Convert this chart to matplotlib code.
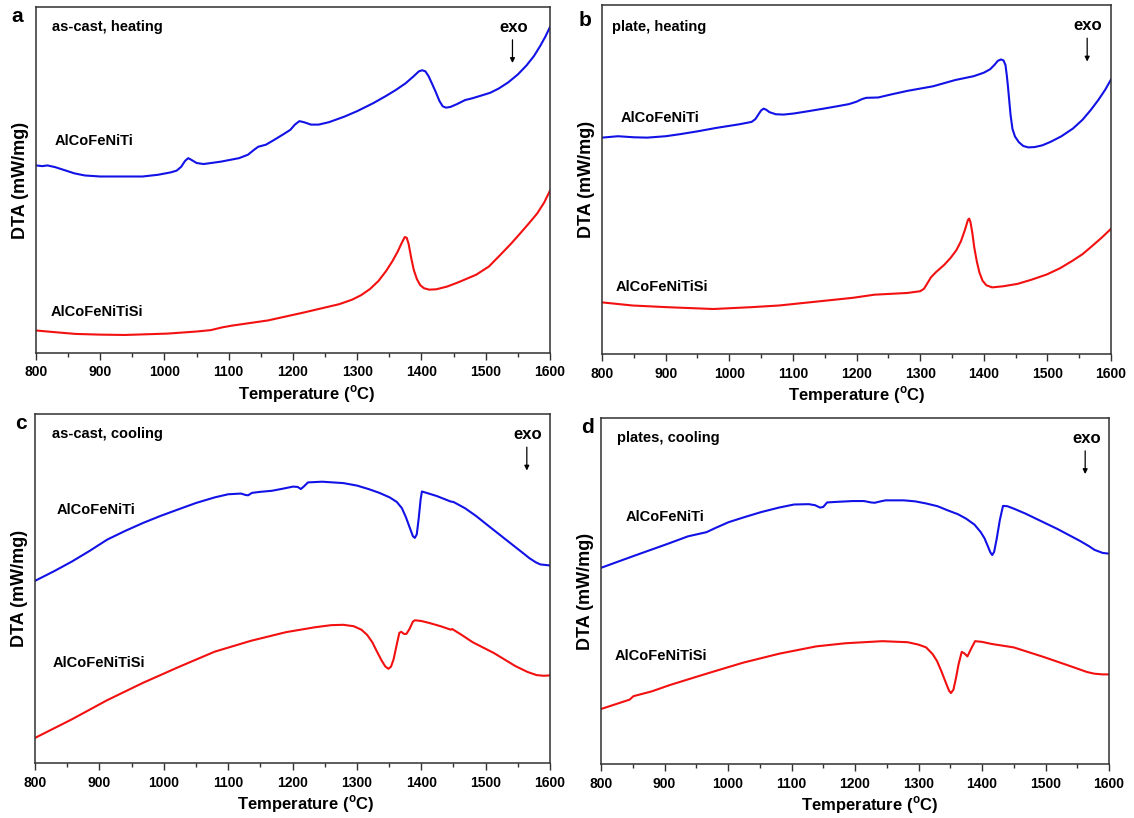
import matplotlib

matplotlib.use("Agg")
import matplotlib.pyplot as plt
from matplotlib.ticker import MultipleLocator

plt.rcParams["font.family"] = ["Liberation Sans", "DejaVu Sans"]
plt.rcParams["font.weight"] = "bold"
plt.rcParams["mathtext.fontset"] = "custom"
plt.rcParams["mathtext.bf"] = "Liberation Sans:bold"
plt.rcParams["mathtext.rm"] = "Liberation Sans:bold"

BLUE = "#1212e6"
RED = "#f21010"
SPINE = "#303030"

# --- (a) as-cast, heating: temperature (C) and DTA signal (% of axis height) ---
a_ti_t = [800, 810, 818, 830, 845, 860, 876, 900, 966, 990, 1010, 1019, 1026, 1032,
          1037, 1042, 1050, 1061, 1088, 1116, 1130, 1140, 1146, 1158, 1170, 1185,
          1196, 1203, 1210, 1217, 1228, 1240, 1256, 1280, 1300, 1325, 1345, 1360,
          1375, 1388, 1396, 1401, 1406, 1411, 1416, 1422, 1428, 1433, 1438, 1445,
          1455, 1468, 1479, 1495, 1507, 1520, 1535, 1550, 1563, 1575, 1585, 1593,
          1600]
a_ti_y = [54.2, 54.0, 54.2, 53.7, 52.8, 51.9, 51.3, 51.0, 51.0, 51.5, 52.2, 52.7,
          53.8, 55.5, 56.3, 55.8, 54.9, 54.6, 55.3, 56.3, 57.3, 58.8, 59.6, 60.2,
          61.5, 63.2, 64.5, 66.0, 67.0, 66.7, 66.0, 66.0, 66.7, 68.3, 69.9, 72.2,
          74.3, 76.0, 77.9, 80.0, 81.4, 81.7, 81.4, 80.0, 78.0, 75.5, 72.8, 71.3,
          70.9, 71.1, 71.9, 73.1, 73.6, 74.5, 75.2, 76.4, 78.2, 80.5, 83.0, 85.8,
          88.8, 91.5, 94.2]
a_si_t = [800, 830, 862, 900, 938, 1005, 1050, 1072, 1090, 1105, 1161, 1217, 1272,
          1292, 1306, 1320, 1333, 1345, 1355, 1363, 1369, 1374, 1377, 1380, 1384,
          1388, 1393, 1398, 1404, 1412, 1423, 1440, 1457, 1485, 1505, 1524, 1540,
          1551, 1566, 1580, 1591, 1600]
a_si_y = [6.5, 6.0, 5.5, 5.3, 5.2, 5.6, 6.2, 6.6, 7.4, 7.9, 9.4, 11.7, 14.1, 15.4,
          16.7, 18.5, 20.8, 23.7, 26.6, 29.3, 31.7, 33.5, 33.3, 31.5, 27.5, 24.0,
          21.3, 19.6, 18.7, 18.3, 18.4, 19.2, 20.4, 22.6, 25.0, 28.6, 31.7, 34.0,
          37.2, 40.3, 43.5, 46.9]

# --- (b) plate, heating ---
b_ti_t = [800, 825, 850, 871, 900, 923, 950, 980, 1015, 1035, 1041, 1046, 1050,
          1054, 1058, 1063, 1073, 1085, 1101, 1125, 1148, 1170, 1188, 1200, 1208,
          1215, 1234, 1255, 1280, 1320, 1355, 1384, 1400, 1410, 1417, 1422, 1427,
          1431, 1434, 1436, 1438, 1440, 1442, 1445, 1449, 1455, 1462, 1470, 1480,
          1492, 1505, 1522, 1540, 1555, 1568, 1580, 1591, 1600]
b_ti_y = [62.0, 62.4, 62.1, 62.0, 62.4, 63.0, 63.8, 64.8, 65.8, 66.5, 67.3, 68.7,
          69.8, 70.3, 70.0, 69.3, 68.7, 68.6, 68.9, 69.6, 70.3, 71.0, 71.6, 72.3,
          73.0, 73.4, 73.5, 74.4, 75.4, 76.7, 78.5, 79.6, 80.6, 81.6, 82.9, 84.0,
          84.4, 84.1, 82.8, 80.0, 76.5, 72.5, 68.5, 64.5, 62.3, 60.7, 59.6, 59.2,
          59.3, 59.8, 60.8, 62.4, 64.6, 67.1, 69.9, 72.8, 75.8, 78.7]
b_si_t = [800, 848, 905, 975, 1032, 1078, 1136, 1194, 1228, 1280, 1300, 1306, 1311,
          1317, 1325, 1338, 1348, 1357, 1364, 1370, 1375, 1377, 1379, 1382, 1385,
          1389, 1393, 1398, 1404, 1413, 1430, 1453, 1475, 1499, 1520, 1540, 1555,
          1568, 1585, 1600]
b_si_y = [14.8, 13.9, 13.4, 12.9, 13.4, 13.9, 15.0, 16.1, 17.0, 17.5, 18.0, 18.7,
          20.2, 22.0, 23.5, 25.6, 27.6, 29.8, 32.3, 35.4, 38.4, 38.8, 37.8, 34.6,
          30.5, 26.5, 23.4, 21.0, 19.7, 19.1, 19.4, 20.1, 21.3, 22.8, 24.6, 26.8,
          28.6, 30.6, 33.3, 35.9]

# --- (c) as-cast, cooling ---
c_ti_t = [800, 830, 857, 885, 912, 940, 968, 995, 1023, 1050, 1079, 1100, 1120,
          1127, 1131, 1137, 1150, 1168, 1185, 1201, 1208, 1213, 1218, 1224, 1246,
          1279, 1300, 1318, 1335, 1351, 1362, 1370, 1376, 1382, 1387, 1390, 1393,
          1396, 1399, 1401, 1410, 1424, 1446, 1450, 1468, 1485, 1502, 1535, 1555,
          1568, 1578, 1585, 1600]
c_ti_y = [52.2, 55.0, 57.7, 60.8, 64.0, 66.5, 68.8, 70.8, 72.7, 74.5, 76.1, 77.0,
          77.2, 76.8, 76.7, 77.4, 77.7, 78.0, 78.6, 79.2, 79.1, 78.5, 79.3, 80.4,
          80.6, 80.2, 79.5, 78.5, 77.4, 76.1, 74.8, 73.0, 70.5, 67.5, 65.0, 64.5,
          65.5, 70.0, 75.5, 77.8, 77.3, 76.5, 74.9, 74.8, 73.0, 70.8, 68.3, 63.5,
          60.6, 58.7, 57.5, 56.9, 56.6]
c_si_t = [800, 857, 912, 968, 1023, 1079, 1135, 1190, 1235, 1260, 1279, 1295, 1307,
          1316, 1324, 1331, 1338, 1344, 1349, 1353, 1357, 1362, 1366, 1369, 1373,
          1377, 1382, 1387, 1390, 1400, 1413, 1430, 1446, 1448, 1462, 1480, 1513,
          1546, 1565, 1579, 1590, 1600]
c_si_y = [7.2, 12.5, 18.0, 23.0, 27.5, 31.9, 35.0, 37.5, 38.9, 39.5, 39.6, 39.2,
          38.2, 36.7, 34.6, 32.0, 29.5, 27.7, 27.0, 27.6, 29.7, 34.0, 37.3, 37.6,
          37.0, 37.0, 38.5, 40.5, 40.9, 40.7, 40.1, 39.2, 38.2, 38.4, 36.8, 34.6,
          31.5, 27.8, 26.1, 25.2, 25.0, 25.1]

# --- (d) plates, cooling ---
d_ti_t = [800, 851, 903, 937, 966, 980, 1001, 1025, 1052, 1080, 1104, 1127, 1137,
          1145, 1150, 1156, 1175, 1197, 1214, 1225, 1231, 1240, 1248, 1277, 1295,
          1312, 1330, 1346, 1362, 1375, 1388, 1398, 1404, 1409, 1413, 1416, 1419,
          1423, 1428, 1433, 1440, 1450, 1468, 1485, 1519, 1554, 1568, 1577, 1590,
          1600]
d_ti_y = [56.7, 60.1, 63.5, 65.8, 67.0, 68.2, 69.9, 71.3, 72.8, 74.1, 75.0, 75.1,
          74.8, 74.1, 74.3, 75.6, 75.8, 76.0, 76.0, 75.6, 75.5, 75.9, 76.2, 76.2,
          75.9, 75.3, 74.5, 73.3, 72.2, 70.9, 69.2, 67.0, 65.2, 63.0, 61.2, 60.4,
          61.3, 65.0, 70.5, 74.6, 74.5, 73.8, 72.4, 70.9, 67.9, 64.5, 63.0, 61.9,
          61.0, 60.8]
d_si_t = [800, 820, 845, 851, 880, 908, 966, 1024, 1081, 1139, 1185, 1243, 1283,
          1300, 1312, 1322, 1329, 1336, 1343, 1348, 1351, 1355, 1359, 1363, 1368,
          1372, 1377, 1383, 1389, 1400, 1415, 1450, 1496, 1542, 1565, 1577, 1590,
          1600]
d_si_y = [15.9, 17.1, 18.6, 19.6, 21.0, 22.8, 26.1, 29.3, 31.9, 34.0, 34.9, 35.5,
          35.2, 34.5, 33.7, 31.8, 29.8, 26.8, 23.5, 21.2, 20.5, 21.5, 24.9, 28.8,
          32.4, 32.0, 31.1, 33.4, 35.5, 35.3, 34.7, 33.7, 31.0, 28.1, 26.6, 26.1,
          25.9, 25.9]

panel_letters = ["a", "b", "c", "d"]
panel_titles = ["as-cast, heating", "plate, heating", "as-cast, cooling", "plates, cooling"]
alloys = ["AlCoFeNiTi", "AlCoFeNiTiSi"]


def style_axis(axis, xlabel_x):
    axis.set_xlim(800, 1600)
    axis.set_ylim(0, 100)
    axis.xaxis.set_major_locator(MultipleLocator(100))
    axis.xaxis.set_minor_locator(MultipleLocator(50))
    axis.tick_params(axis="x", which="major", direction="out", length=5, width=1,
                     color=SPINE, pad=4, labelsize=10, top=False)
    axis.tick_params(axis="x", which="minor", direction="out", length=3, width=1,
                     color=SPINE, top=False)
    axis.tick_params(axis="y", left=False, right=False, labelleft=False)
    for label in axis.get_xticklabels():
        label.set_fontweight("bold")
    for spine in axis.spines.values():
        spine.set_linewidth(1.1)
        spine.set_color(SPINE)
    axis.set_xlabel(r"Temperature ($^{\mathbf{o}}$C)", fontsize=12,
                    fontweight="bold", labelpad=3)
    axis.xaxis.label.set_x(xlabel_x)
    axis.set_ylabel("DTA (mW/mg)", fontsize=13, fontweight="bold", labelpad=5)


figure = plt.figure(figsize=(11.34, 8.18), dpi=100)

# axes rectangles (left, bottom, width, height) in figure fraction
rects = [
    (0.0317, 0.5685, 0.4533, 0.4230),
    (0.5309, 0.5672, 0.4489, 0.4267),
    (0.0309, 0.0672, 0.4541, 0.4267),
    (0.5300, 0.0660, 0.4480, 0.4230),
]
curves = [
    (a_ti_t, a_ti_y, a_si_t, a_si_y),
    (b_ti_t, b_ti_y, b_si_t, b_si_y),
    (c_ti_t, c_ti_y, c_si_t, c_si_y),
    (d_ti_t, d_ti_y, d_si_t, d_si_y),
]
# text anchors in axes fraction
ti_label_pos = [(0.036, 0.614), (0.037, 0.675), (0.042, 0.724), (0.048, 0.714)]
si_label_pos = [(0.029, 0.119), (0.027, 0.193), (0.035, 0.286), (0.027, 0.313)]
title_pos = [(0.031, 0.942), (0.019, 0.938), (0.033, 0.942), (0.031, 0.941)]
exo_x = [0.929, 0.955, 0.957, 0.955]
xlabel_x = [0.527, 0.5, 0.526, 0.528]
letter_pos = [(17, 17), (585, 20), (21, 424), (587, 427)]

for idx, rect in enumerate(rects):
    axis = figure.add_axes(rect)
    ti_t, ti_y, si_t, si_y = curves[idx]
    axis.plot(ti_t, ti_y, color=BLUE, linewidth=1.5)
    axis.plot(si_t, si_y, color=RED, linewidth=1.5)
    style_axis(axis, xlabel_x[idx])

    axis.text(*title_pos[idx], panel_titles[idx], transform=axis.transAxes,
              fontsize=10.5, fontweight="bold", ha="left", va="center")
    axis.text(*ti_label_pos[idx], alloys[0], transform=axis.transAxes,
              fontsize=10.5, fontweight="bold", ha="left", va="center")
    axis.text(*si_label_pos[idx], alloys[1], transform=axis.transAxes,
              fontsize=10.5, fontweight="bold", ha="left", va="center")
    axis.text(exo_x[idx], 0.940, "exo", transform=axis.transAxes,
              fontsize=12, fontweight="bold", ha="center", va="center")
    axis.annotate("", xy=(exo_x[idx] - 0.002, 0.838), xytext=(exo_x[idx] - 0.002, 0.905),
                  xycoords="axes fraction", textcoords="axes fraction",
                  arrowprops=dict(arrowstyle="-|>", color="black", lw=0.9,
                                  mutation_scale=7, shrinkA=0, shrinkB=0))

    lx, ly = letter_pos[idx]
    figure.text(lx / 1134, 1 - ly / 818, panel_letters[idx], fontsize=15,
                fontweight="bold", ha="center", va="center")

figure.savefig("out.png", dpi=100)
plt.close(figure)
